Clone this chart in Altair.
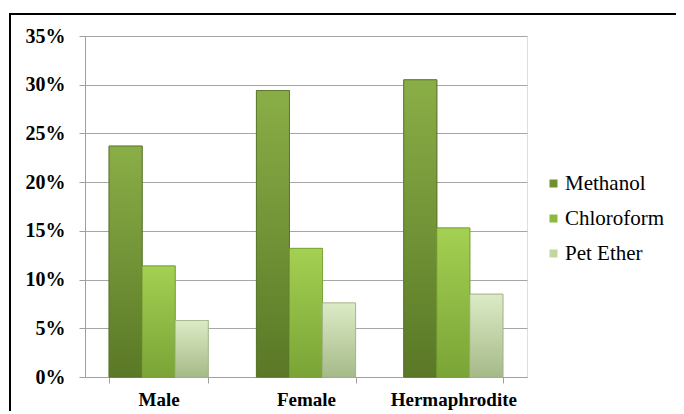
import altair as alt
import pandas as pd

categories = ["Male", "Female", "Hermaphrodite"]
series = ["Methanol", "Chloroform", "Pet Ether"]
methanol = [0.237, 0.294, 0.305]
chloroform = [0.114, 0.132, 0.153]
pet_ether = [0.058, 0.076, 0.085]
y_ticks = [0, 0.05, 0.10, 0.15, 0.20, 0.25, 0.30, 0.35]

solid = ["#6f9030", "#8cba3e", "#c2d79e"]
grads = [("#8aae47", "#5a7826"), ("#a4d052", "#7aa436"), ("#dcebc6", "#a6ba88")]
strokes = ["#57722a", "#76a036", "#a3b489"]

FONT = "Times New Roman, Liberation Serif, serif"

rows = []
for vals, s in zip([methanol, chloroform, pet_ether], series):
    for c, v in zip(categories, vals):
        rows.append({"Category": c, "Series": s, "Value": v})
df = pd.DataFrame(rows)

W, H = 442, 341

x_enc = alt.X("Category:N", sort=categories, title=None,
              scale=alt.Scale(paddingInner=0.327, paddingOuter=0.1635),
              axis=alt.Axis(labelAngle=0, labelFont=FONT, labelFontWeight="bold",
                            labelFontSize=19, labelColor="black", labelPadding=7,
                            domainColor="#a0a0a0", tickColor="#a0a0a0", tickSize=6,
                            tickBand="extent", grid=False))
xo_enc = alt.XOffset("Series:N", sort=series, scale=alt.Scale(domain=series, paddingInner=0, paddingOuter=0))
y_enc = alt.Y("Value:Q", title=None,
              scale=alt.Scale(domain=[0, 0.35], nice=False),
              axis=alt.Axis(values=y_ticks, format=".0%", labelFont=FONT,
                            labelFontWeight="bold", labelFontSize=20, labelColor="black",
                            labelPadding=14, domainColor="#a0a0a0", tickColor="#a0a0a0",
                            tickSize=6, gridColor="#a6a6a6", gridWidth=1))

base = alt.Chart(df).mark_bar(strokeWidth=0.8).encode(
    x=x_enc, xOffset=xo_enc, y=y_enc,
    color=alt.Color("Series:N", sort=series,
                    scale=alt.Scale(domain=series, range=solid),
                    legend=alt.Legend(title=None, orient="none", legendX=458, legendY=137,
                                      padding=0, symbolType="square", symbolSize=64,
                                      symbolStrokeWidth=0, labelFont=FONT,
                                      labelFontSize=21, labelColor="black", labelOffset=1,
                                      rowPadding=13)),
    stroke=alt.Stroke("Series:N", sort=series, scale=alt.Scale(domain=series, range=strokes), legend=None),
)

layers = [base]
for s, (top, bot), st in zip(series, grads, strokes):
    layers.append(
        alt.Chart(df).transform_filter(alt.datum.Series == s).mark_bar(
            color=alt.Gradient(gradient="linear", x1=0, y1=0, x2=0, y2=1,
                               stops=[alt.GradientStop(color=top, offset=0),
                                      alt.GradientStop(color=bot, offset=1)]),
            stroke=st, strokeWidth=0.8
        ).encode(x=x_enc, xOffset=xo_enc, y=y_enc)
    )

border = alt.Chart(pd.DataFrame({"a": [0]})).mark_rect(
    fill=None, stroke="black", strokeWidth=2, clip=False
).encode(x=alt.value(-75), x2=alt.value(800), y=alt.value(-22), y2=alt.value(600))
layers.append(border)

chart = alt.layer(*layers).properties(
    width=W, height=H,
    autosize=alt.AutoSizeParams(type="none"),
    padding={"left": 77, "top": 28, "right": 149, "bottom": 34},
).configure_view(stroke=None).configure(background="white", font=FONT).configure_legend(
    labelFont=FONT
)

chart.save("out.html", embed_options={"renderer": "svg", "actions": False})
